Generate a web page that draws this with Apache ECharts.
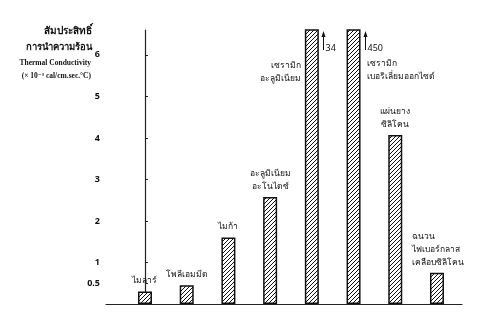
<!DOCTYPE html>
<html><head><meta charset="utf-8">
<script src="https://cdn.jsdelivr.net/npm/echarts@6/dist/echarts.min.js"></script>
<style>html,body{margin:0;padding:0;background:#fff}#c{width:480px;height:317px}</style>
</head><body><div id="c"></div>
<script>
const categories = ['ไมลาร์', 'โพลีเอมมีด', 'ไมก้า', 'อะลูมิเนียม\nอะโนไดซ์', 'เซรามิก\nอะลูมิเนียม', 'เซรามิก\nเบอริเลี่ยมออกไซด์', 'แผ่นยาง\nซิลิโคน', 'ฉนวน\nไฟเบอร์กลาส\nเคลือบซิลิโคน'];
const values = [0.3, 0.45, 1.6, 2.58, 34, 450, 4.07, 0.75];
const tickValues = [0.5, 1, 2, 3, 4, 5, 6];
const brokenLabels = {4: '34', 5: '450'};

const pc = document.createElement('canvas');
pc.width = 4; pc.height = 4;
const g = pc.getContext('2d');
g.fillStyle = '#fff'; g.fillRect(0,0,4,4);
g.strokeStyle = '#111'; g.lineWidth = 1;
g.beginPath(); g.moveTo(0,4); g.lineTo(4,0); g.moveTo(-1,1); g.lineTo(1,-1); g.moveTo(3,5); g.lineTo(5,3); g.stroke();

const FONT = '"Noto Sans", "DejaVu Sans", sans-serif';
const SERIF = '"Liberation Serif", "DejaVu Serif", serif';
const chart = echarts.init(document.getElementById('c'));
const data = values.map((v, i) => {
  const item = {value: [i, v], label: {show: true, position: 'top', distance: 4}};
  if (i === 4) item.label = {show: true, position: [-4, 30], align: 'right', verticalAlign: 'top'};
  if (i === 5) item.label = {show: true, position: [20, 28], align: 'left', verticalAlign: 'top'};
  if (i === 7) item.label = {show: true, position: 'top', distance: 4, align: 'left', offset: [-25, 0]};
  return item;
});
const titleGraphics = [
  {type: 'text', id: 't1', x: 92, y: 26, style: {text: 'สัมประสิทธิ์', fill: '#111', font: 'bold 10px ' + FONT, align: 'right'}},
  {type: 'text', id: 't2', x: 92, y: 42, style: {text: 'การนำความร้อน', fill: '#111', font: 'bold 9.5px ' + FONT, align: 'right'}},
  {type: 'text', id: 't3', x: 91, y: 59, style: {text: 'Thermal Conductivity', fill: '#111', font: 'bold 7.5px ' + SERIF, align: 'right'}},
  {type: 'text', id: 't4', x: 91, y: 72, style: {text: '(× 10⁻³ cal/cm.sec.°C)', fill: '#111', font: 'bold 7.5px ' + SERIF, align: 'right'}}
];
chart.setOption({
  animation: false,
  grid: {left: 106, right: 18, top: 30, bottom: 13},
  xAxis: {type: 'value', min: -0.935, max: 7.6, axisLine: {show: true, lineStyle: {color: '#222', width: 1.2}},
    axisTick: {show: false}, axisLabel: {show: false}, splitLine: {show: false}},
  yAxis: {type: 'value', min: 0, max: 6.6,
    axisLine: {show: true, lineStyle: {color: '#222', width: 1.2}},
    axisTick: {show: true, inside: true, length: 3, customValues: tickValues, lineStyle: {color: '#222'}},
    axisLabel: {show: true, customValues: tickValues, color: '#111', fontSize: 9, fontWeight: 'bold', fontFamily: FONT, margin: 6},
    splitLine: {show: false}},
  series: [{
    type: 'bar', barWidth: 14, clip: true,
    itemStyle: {color: {image: pc, repeat: 'repeat'}, borderColor: '#111', borderWidth: 1.5},
    label: {formatter: p => categories[p.dataIndex], color: '#111', fontSize: 8.5, lineHeight: 13, fontFamily: FONT},
    data: data
  }],
  graphic: titleGraphics
});
const extra = titleGraphics.slice();
Object.keys(brokenLabels).forEach(k => {
  const i = +k;
  const p = chart.convertToPixel({gridIndex: 0}, [i, 0]);
  const x = Math.round(p[0] + 7 + 4) + 0.5;
  extra.push({type: 'line', id: 'l' + k, shape: {x1: x, y1: 50, x2: x, y2: 35}, style: {stroke: '#111', lineWidth: 1}});
  extra.push({type: 'polygon', id: 'p' + k, shape: {points: [[x - 2, 37], [x + 2, 37], [x, 31]]}, style: {fill: '#111'}});
  extra.push({type: 'text', id: 'x' + k, x: x + 2, y: 44, style: {text: brokenLabels[k], fill: '#111', font: '9px ' + FONT}});
});
chart.setOption({graphic: extra});
</script></body></html>
